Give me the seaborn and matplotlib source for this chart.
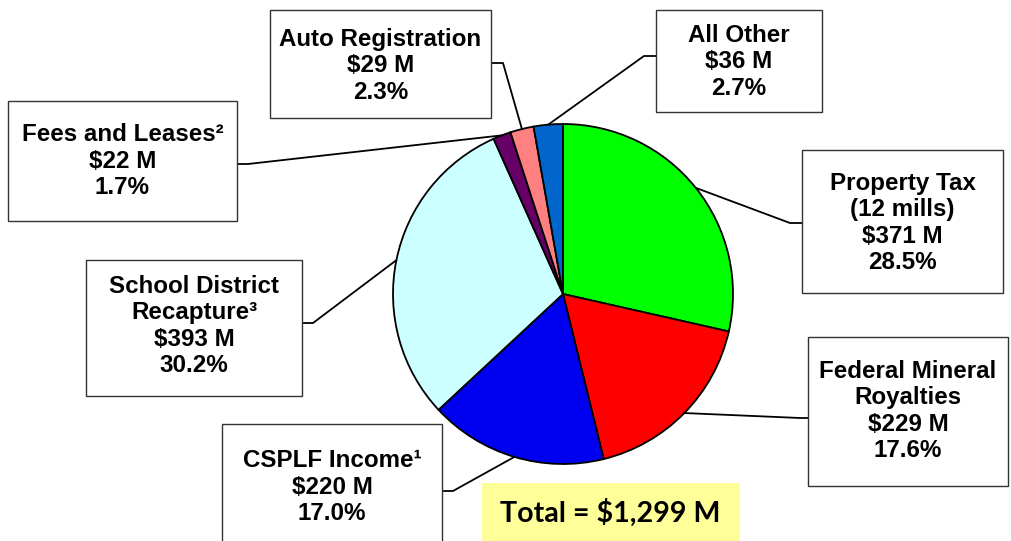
"""
Revenue sources pie chart with boxed callout labels
"""

import numpy as np
import matplotlib
matplotlib.use("Agg")
import matplotlib.pyplot as plt
import seaborn as sns
from matplotlib.patches import Rectangle

# data (clockwise from 12 o'clock)
names = ["Property Tax\n(12 mills)", "Federal Mineral\nRoyalties", "CSPLF Income\u00b9",
         "School District\nRecapture\u00b3", "Fees and Leases\u00b2", "Auto Registration", "All Other"]
amounts = [371, 229, 220, 393, 22, 29, 36]
shares = [28.5, 17.6, 17.0, 30.2, 1.7, 2.3, 2.7]
colors = ["#00FF00", "#FF0000", "#0000F0", "#CCFFFF", "#660066", "#FF8080", "#0066CC"]
total_label = "Total = $1,299 M"

W, H = 1011, 541

# callout layout in pixel coords: box (x0, y0, x1, y1), elbow point, attach point on box
boxes = [(802, 150, 1003, 293), (808, 337, 1008, 486), (222, 424, 442, 560),
         (86, 260, 302, 396), (8, 101, 237, 221), (270, 10, 491, 118), (656, 10, 822, 112)]
elbows = [(790, 223), (800, 418), (453, 491), (313, 323), (248, 164), (503, 63), (644, 56)]
attach = [(802, 223), (808, 418), (442, 491), (302, 323), (237, 164), (491, 63), (656, 56)]
text_y = [223, 411, 487, 326, 161, 66, 62]

sns.set_theme(style="white")
plt.rcParams['font.family'] = ['Liberation Sans', 'DejaVu Sans']
plt.rcParams['text.color'] = 'black'


def Y(py):
    return H - py


fig = plt.figure(figsize=(W / 100, H / 100), dpi=100)
ax = fig.add_axes([0, 0, 1, 1])

cx, cy, r = 563, 294, 170
wedges, _ = ax.pie(amounts, colors=colors, startangle=90, counterclock=False,
                   center=(cx, Y(cy)), radius=r, frame=True,
                   wedgeprops=dict(edgecolor='black', linewidth=1.3))
ax.set_xlim(0, W)
ax.set_ylim(0, H)
ax.axis('off')

for i, w in enumerate(wedges):
    mid = np.deg2rad((w.theta1 + w.theta2) / 2)
    px, py = cx + r * np.cos(mid), Y(cy) + r * np.sin(mid)
    ex, ey = elbows[i]
    ax_, ay_ = attach[i]
    ax.plot([px, ex, ax_], [py, Y(ey), Y(ay_)], color='black', lw=1.3, zorder=1)

    x0, y0, x1, y1 = boxes[i]
    ax.add_patch(Rectangle((x0, Y(y1)), x1 - x0, y1 - y0, facecolor='white',
                           edgecolor='#333333', lw=1.0, zorder=2))
    label = f"{names[i]}\n${amounts[i]} M\n{shares[i]:.1f}%"
    ax.text((x0 + x1) / 2, Y(text_y[i]), label, ha='center', va='center', color='black',
            fontsize=17.4, fontweight='bold', linespacing=1.17, zorder=3)

# total box
ax.add_patch(Rectangle((482, Y(541)), 258, 58, facecolor='#FFFF99', edgecolor='none', zorder=2))
ax.text(610, Y(513), total_label, ha='center', va='center', fontsize=20.6, color='black',
        fontweight='bold', family=['Lato', 'DejaVu Sans'], zorder=3)

fig.savefig("out.png", dpi=100)
